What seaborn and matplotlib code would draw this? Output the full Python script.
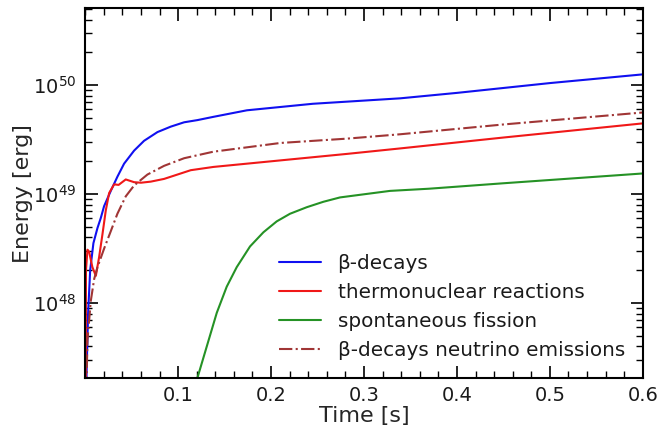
import matplotlib
matplotlib.use("Agg")
import matplotlib.pyplot as plt
import seaborn as sns
import numpy as np
import pandas as pd
from matplotlib.ticker import AutoMinorLocator, LogLocator, NullFormatter

# ---- data (energies given as log10(E / erg)) ----
beta_t = [0.0007, 0.0018, 0.0032, 0.0054, 0.0089, 0.0133, 0.0168, 0.0204, 0.0276, 0.0347,
          0.0419, 0.0527, 0.0634, 0.0778, 0.0921, 0.1065, 0.1208, 0.138, 0.174, 0.245,
          0.339, 0.40, 0.50, 0.60]
beta_logE = [47.0, 47.45, 47.91, 48.30, 48.55, 48.69, 48.78, 48.89, 49.03, 49.16,
             49.28, 49.40, 49.49, 49.57, 49.62, 49.66, 49.68, 49.71, 49.77, 49.83,
             49.88, 49.93, 50.02, 50.10]

thermo_t = [0.0006, 0.0009, 0.0025, 0.0043, 0.0078, 0.0115, 0.015, 0.0186, 0.0222, 0.0258,
            0.0312, 0.036, 0.0437, 0.0527, 0.060, 0.0706, 0.0849, 0.0921, 0.1136, 0.138,
            0.21, 0.282, 0.339, 0.45, 0.60]
thermo_logE = [47.0, 48.30, 48.49, 48.47, 48.33, 48.25, 48.42, 48.63, 48.85, 49.01,
               49.09, 49.085, 49.135, 49.11, 49.105, 49.115, 49.14, 49.16, 49.22, 49.25,
               49.31, 49.37, 49.42, 49.52, 49.65]

fission_t = [0.115, 0.120, 0.1308, 0.1416, 0.1523, 0.1631, 0.1774, 0.1918, 0.2061, 0.2204,
             0.2384, 0.2563, 0.2742, 0.2921, 0.328, 0.37, 0.45, 0.60]
fission_logE = [47.10, 47.29, 47.60, 47.91, 48.15, 48.33, 48.52, 48.65, 48.75, 48.82,
                48.88, 48.93, 48.97, 48.99, 49.03, 49.05, 49.10, 49.19]

nu_t = [0.0008, 0.0025, 0.0061, 0.0097, 0.0133, 0.0204, 0.0276, 0.0347, 0.0437, 0.0527,
        0.067, 0.0849, 0.1065, 0.138, 0.21, 0.282, 0.339, 0.45, 0.60]
nu_logE = [47.0, 47.66, 48.02, 48.22, 48.33, 48.50, 48.66, 48.82, 48.98, 49.08,
           49.18, 49.26, 49.33, 49.39, 49.47, 49.51, 49.55, 49.64, 49.75]

labels = ["β-decays", "thermonuclear reactions", "spontaneous fission",
          "β-decays neutrino emissions"]
colors = ["#1010f0", "#f01818", "#259225", "#a03535"]
styles = ["-", "-", "-", "-."]

xticks = [0.1, 0.2, 0.3, 0.4, 0.5, 0.6]

# ---- plot ----
sns.set_style("white")
plt.rcParams["font.family"] = ["DejaVu Sans"]
plt.rcParams["mathtext.fontset"] = "dejavusans"
plt.rcParams["text.color"] = "#1a1a1a"

fig = plt.figure(figsize=(6.6, 4.32), dpi=100)
ax = fig.add_axes([0.129, 0.125, 0.845, 0.856])

series = [(beta_t, beta_logE), (thermo_t, thermo_logE),
          (fission_t, fission_logE), (nu_t, nu_logE)]
for (t, le), lab, c, ls in zip(series, labels, colors, styles):
    df = pd.DataFrame({"t": t, "E": 10.0 ** np.asarray(le)})
    sns.lineplot(data=df, x="t", y="E", ax=ax, color=c, linestyle=ls,
                 linewidth=1.5, label=lab, sort=False, estimator=None)

ax.set_yscale("log")
ax.set_xlim(0, 0.6)
ax.set_ylim(2.05e47, 5.1e50)
ax.set_xticks(xticks)
ax.set_xticklabels([f"{v:.1f}" for v in xticks])
ax.xaxis.set_minor_locator(AutoMinorLocator(5))
ax.yaxis.set_major_locator(LogLocator(base=10, numticks=10))
ax.yaxis.set_minor_locator(LogLocator(base=10, subs=range(2, 10), numticks=20))
ax.yaxis.set_minor_formatter(NullFormatter())

ax.tick_params(which="both", direction="in", top=True, right=True, bottom=True, left=True,
               colors="black", labelcolor="#1a1a1a")
ax.tick_params(which="major", length=9, width=1.2, labelsize=14, pad=6)
ax.tick_params(which="minor", length=5, width=1.0)
for s in ax.spines.values():
    s.set_color("black")
    s.set_linewidth(1.5)

ax.set_xlabel("Time [s]", fontsize=16, labelpad=0.5)
ax.set_ylabel("Energy [erg]", fontsize=16, labelpad=0)

leg = ax.legend(loc="lower right", bbox_to_anchor=(1.0, 0.0), frameon=False,
                fontsize=14.4, handlelength=2.1, handletextpad=0.85, labelspacing=0.5)

fig.savefig("out.png", dpi=100)
